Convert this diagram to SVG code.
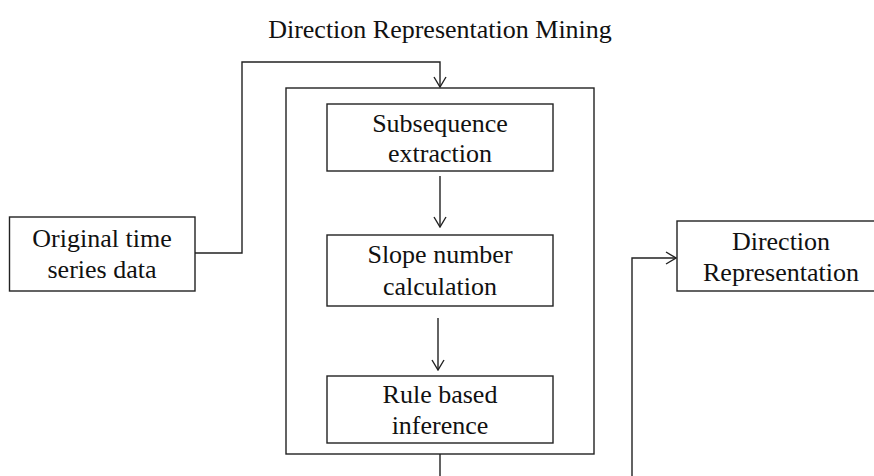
<svg xmlns="http://www.w3.org/2000/svg" width="874" height="476" viewBox="0 0 874 476">
<defs>
<style>
.box{fill:#fff;stroke:#222;stroke-width:1.4}
.outer{fill:none;stroke:#222;stroke-width:1.4}
.t{font-family:"Liberation Serif","Times New Roman",serif;font-size:26px;fill:#111;text-anchor:middle}
.c{fill:none;stroke:#222;stroke-width:1.4}
</style>
<marker id="ah" viewBox="0 0 12 14" refX="11" refY="7" markerWidth="12" markerHeight="14" markerUnits="userSpaceOnUse" orient="auto">
<path d="M1,1 L11,7 L1,13" fill="none" stroke="#222" stroke-width="1.4"/>
</marker>
</defs>
<rect width="874" height="476" fill="#fff"/>
<text class="t" x="440" y="38">Direction Representation Mining</text>
<g id="mining-block">
<rect class="outer" x="286" y="88" width="308" height="366"/>
</g>
<g id="original">
<rect class="box" x="9.5" y="217" width="185.5" height="74"/>
<text class="t" x="102" y="247">Original time</text>
<text class="t" x="102" y="278">series data</text>
</g>
<g id="subsequence">
<rect class="box" x="327" y="104" width="226" height="67"/>
<text class="t" x="440" y="132">Subsequence</text>
<text class="t" x="440" y="162">extraction</text>
</g>
<g id="slope">
<rect class="box" x="327" y="235" width="226" height="71"/>
<text class="t" x="440" y="263">Slope number</text>
<text class="t" x="440" y="295">calculation</text>
</g>
<g id="rule">
<rect class="box" x="327" y="376" width="226" height="67"/>
<text class="t" x="440" y="403">Rule based</text>
<text class="t" x="440" y="434">inference</text>
</g>
<g id="direction">
<rect class="box" x="677" y="221" width="210" height="70"/>
<text class="t" x="781" y="250">Direction</text>
<text class="t" x="781" y="281">Representation</text>
</g>
<g id="connectors">
<path class="c" d="M195,253 H242 V62 H440 V87" marker-end="url(#ah)"/>
<path class="c" d="M440,176 V227" marker-end="url(#ah)"/>
<path class="c" d="M438,318 V370" marker-end="url(#ah)"/>
<path class="c" d="M440,454 V500 H632 V258 H676" marker-end="url(#ah)"/>
</g>
</svg>
